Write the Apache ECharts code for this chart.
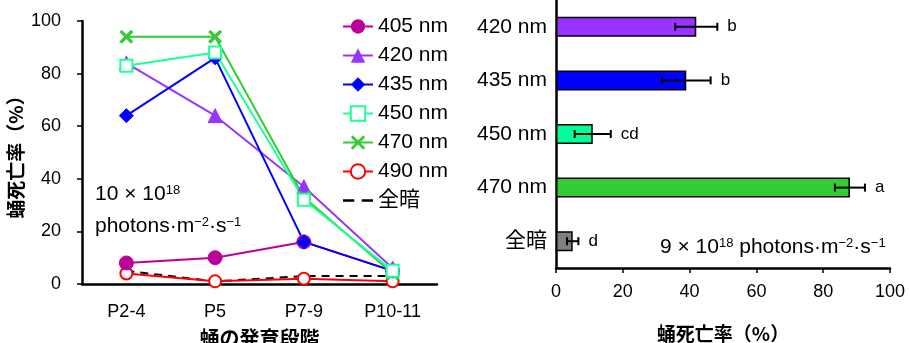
<!DOCTYPE html>
<html><head><meta charset="utf-8">
<script src="https://cdn.jsdelivr.net/npm/echarts@6/dist/echarts.min.js"></script>
<style>html,body{margin:0;padding:0;background:#fff}#c{width:910px;height:343px}</style>
</head><body><div id="c"></div>
<script>
const stages = ['P2-4', 'P5', 'P7-9', 'P10-11'];
const s405 = [8, 10, 16, 5];
const s420 = [84, 64, 37, 6];
const s435 = [64, 86, 16, 5];
const s450 = [83, 88, 32, 5];
const s470 = [94, 94, 33, 4];
const s490 = [4, 1, 2, 1];
const sDark = [5, 1, 3, 3];
const lineNames = ['405 nm', '420 nm', '435 nm', '450 nm', '470 nm', '490 nm', '全暗'];

const barCats = ['420 nm', '435 nm', '450 nm', '470 nm', '全暗'];
const barVals = [42, 39, 11, 88, 5];
const barErr = [6.3, 7.3, 5.4, 4.5, 1.7];
const barLetters = ['b', 'b', 'cd', 'a', 'd'];

const FF = 'Liberation Sans, Arial, Noto Sans CJK JP, sans-serif';
const barColors = ['#9933FF', '#0000FF', '#00FF99', '#33CC33', '#808080'];
const xPath = 'path://M0,1.4L1.4,0L5,3.6L8.6,0L10,1.4L6.4,5L10,8.6L8.6,10L5,6.4L1.4,10L0,8.6L3.6,5Z';
const dashIcon = 'path://M0,0H9V2H0Z M15,0H24V2H15Z';
const nameStyle = { fontSize: 19, color: '#000', fontFamily: 'Noto Sans CJK JP', fontWeight: 'bold' };
const supRich = { s: { fontSize: 13, verticalAlign: 'top', fontFamily: FF } };

function lineSeries(name, data, color, symbol, size, extra) {
  return Object.assign({
    name: name, type: 'line', data: data, xAxisIndex: 0, yAxisIndex: 0,
    symbol: symbol, symbolSize: size,
    lineStyle: { color: color, width: 2 },
    itemStyle: { color: color, borderColor: color },
    emphasis: { disabled: true }
  }, extra || {});
}

const chart = echarts.init(document.getElementById('c'));
chart.setOption({
  animation: false,
  textStyle: { fontFamily: FF },
  grid: [
    { left: 82, right: 473, top: 21, bottom: 59, outerBoundsMode: 'none', containLabel: false },
    { left: 556, right: 20, top: 0, bottom: 75, outerBoundsMode: 'none', containLabel: false }
  ],
  legend: {
    data: lineNames.map(n => n === '全暗' ? { name: n, icon: dashIcon } : { name: n }),
    orient: 'vertical', left: 337, top: 11,
    itemWidth: 30, itemHeight: 18, itemGap: 8,
    textStyle: { fontSize: 21, color: '#000', fontFamily: FF, lineHeight: 20 }
  },
  xAxis: [
    {
      gridIndex: 0, type: 'category', data: stages, boundaryGap: true,
      name: '蛹の発育段階', nameLocation: 'middle', nameGap: 44,
      nameTextStyle: Object.assign({}, nameStyle, { fontSize: 20 }),
      axisLine: { lineStyle: { color: '#000', width: 2.5 } },
      axisTick: { alignWithLabel: true, length: 5, lineStyle: { color: '#000', width: 1.5 } },
      axisLabel: { fontSize: 18, color: '#000', margin: 19 }
    },
    {
      gridIndex: 1, type: 'value', min: 0, max: 100, interval: 20,
      name: '蛹死亡率（%）', nameLocation: 'middle', nameGap: 56,
      nameTextStyle: nameStyle,
      axisLine: { show: true, lineStyle: { color: '#000', width: 2.5 } },
      axisTick: { show: true, length: 5, lineStyle: { color: '#000', width: 1.5 } },
      axisLabel: { fontSize: 18, color: '#000', margin: 15 },
      splitLine: { show: false }
    }
  ],
  yAxis: [
    {
      gridIndex: 0, type: 'value', min: 0, max: 100, interval: 20,
      name: '蛹死亡率（%）', nameLocation: 'middle', nameGap: 57,
      nameTextStyle: nameStyle,
      axisLine: { show: true, lineStyle: { color: '#000', width: 2.5 } },
      axisTick: { show: true, length: 5, lineStyle: { color: '#000', width: 1.5 } },
      axisLabel: { fontSize: 18, color: '#000', margin: 21 },
      splitLine: { show: false }
    },
    {
      gridIndex: 1, type: 'category', data: barCats, inverse: true,
      axisLine: { lineStyle: { color: '#000', width: 2.5 } },
      axisTick: { length: 5, lineStyle: { color: '#000', width: 1.5 } },
      axisLabel: { fontSize: 21, color: '#000', margin: 9 }
    }
  ],
  series: [
    lineSeries('全暗', sDark, '#000', 'none', 0, { lineStyle: { color: '#000', width: 2, type: [8, 6] }, itemStyle: { color: '#000' } }),
    lineSeries('490 nm', s490, '#FF0000', 'emptyCircle', 12, { itemStyle: { color: '#FF0000', borderColor: '#FF0000', borderWidth: 2 } }),
    lineSeries('405 nm', s405, '#BB0099', 'circle', 14),
    lineSeries('420 nm', s420, '#9933FF', 'triangle', 14),
    lineSeries('435 nm', s435, '#0000FF', 'diamond', 14),
    lineSeries('470 nm', s470, '#33CC33', xPath, 13),
    lineSeries('450 nm', s450, '#1FFF99', 'emptyRect', 12, { itemStyle: { color: '#1FFF99', borderColor: '#1FFF99', borderWidth: 2 } }),
    {
      type: 'bar', xAxisIndex: 1, yAxisIndex: 1, barWidth: 20,
      data: barVals.map((v, i) => ({ value: v, itemStyle: { color: barColors[i] } })),
      itemStyle: { borderColor: '#000', borderWidth: 1.5 },
      emphasis: { disabled: true }
    },
    {
      type: 'custom', xAxisIndex: 1, yAxisIndex: 1, z: 5,
      data: barVals.map((v, i) => [v, i, barErr[i]]),
      renderItem: function (params, api) {
        const v = api.value(0), i = api.value(1), e = api.value(2);
        const lo = api.coord([v - e, i]);
        const hi = api.coord([v + e, i]);
        const y = lo[1], h = 4;
        const st = { stroke: '#000', lineWidth: 2 };
        return {
          type: 'group', children: [
            { type: 'line', shape: { x1: lo[0], y1: y, x2: hi[0], y2: y }, style: st },
            { type: 'line', shape: { x1: lo[0], y1: y - h, x2: lo[0], y2: y + h }, style: st },
            { type: 'line', shape: { x1: hi[0], y1: y - h, x2: hi[0], y2: y + h }, style: st },
            { type: 'text', x: hi[0] + 10, y: y, style: { text: barLetters[params.dataIndex], fontSize: 17, fill: '#000', fontFamily: FF, verticalAlign: 'middle', align: 'left' } }
          ]
        };
      }
    }
  ],
  graphic: [
    { type: 'text', left: 95, top: 184, style: { text: '10 × 10{s|18}', fontSize: 21, fill: '#000', fontFamily: FF, rich: supRich } },
    { type: 'text', left: 95, top: 216, style: { text: 'photons·m{s|−2}·s{s|−1}', fontSize: 21, fill: '#000', fontFamily: FF, rich: supRich } },
    { type: 'text', left: 660, top: 237, style: { text: '9 × 10{s|18} photons·m{s|−2}·s{s|−1}', fontSize: 21, fill: '#000', fontFamily: FF, rich: supRich } }
  ]
});
</script></body></html>
